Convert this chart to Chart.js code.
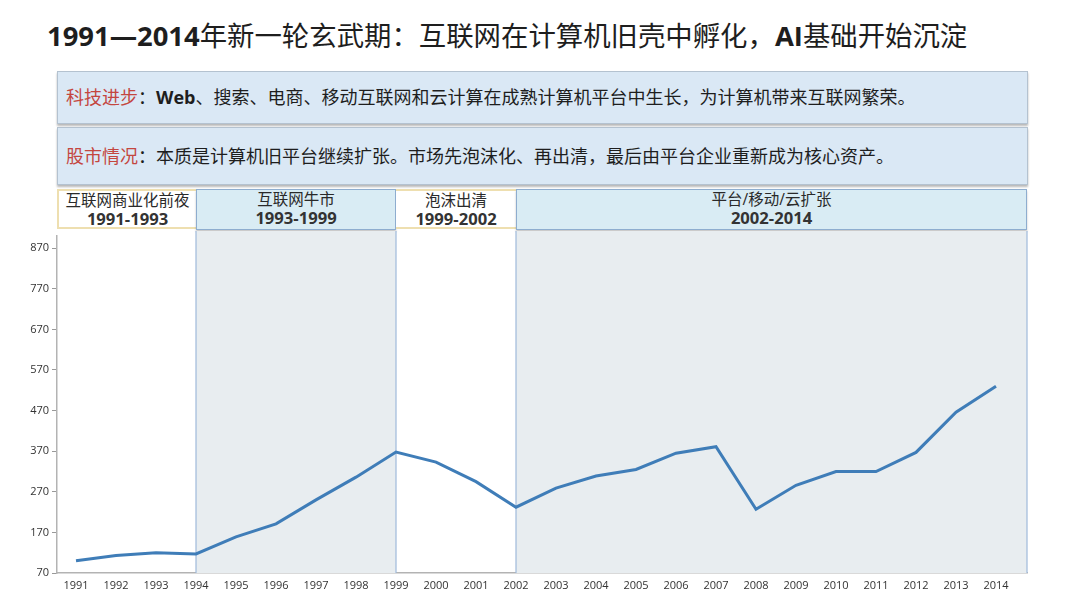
<!DOCTYPE html>
<html>
<head>
<meta charset="utf-8">
<script src="https://cdn.jsdelivr.net/npm/chart.js@4"></script>
<style>
  html, body { margin:0; padding:0; background:#fff; }
  body { width:1080px; height:608px; position:relative; overflow:hidden;
         font-family: "Open Sans", "Noto Sans CJK SC", sans-serif; color:#222; }
  #title { position:absolute; left:47px; top:16px; font-size:27.4px; line-height:40px; white-space:nowrap; color:#1e1e1e;
           font-family: "Open Sans", "Noto Sans CJK SC", sans-serif; }
  #title b { font-weight:700; }
  .box { position:absolute; left:57px; width:969px; background:#dae8f5; border:1px solid #b4c2d0;
         box-shadow:0 2px 2px rgba(0,0,0,0.28); font-size:18px; white-space:nowrap;
         font-family: "Open Sans", "Noto Sans CJK SC", sans-serif; color:#1e1e1e; }
  .box .lab { color:#c4463f; }
  .box .txt { padding-left:8px; }
  #box1 { top:71px; height:51px; line-height:51px; }
  #box2 { top:127px; height:56px; line-height:56px; }
  #band { position:absolute; top:189px; left:0; width:1080px; height:42px; }
  .seg { position:absolute; top:0; height:40px; box-sizing:border-box; text-align:center; color:#2a2a2a;
         font-family: "Open Sans", "Noto Sans CJK SC", sans-serif; }
  .seg.w { background:#fff; border-top:2px solid #eedfb0; border-bottom:2px solid #eedfb0; }
  .seg.b { background:#d9ecf4; border:1px solid #8eadcf; box-shadow:0 2px 2px rgba(0,0,0,0.22); height:41px; }
  .seg .n { font-size:15.5px; line-height:17px; margin-top:1px; }
  .seg .y { font-size:16.6px; line-height:19px; font-weight:700; color:#333; }
  #wrap { position:absolute; left:0; top:231px; width:1080px; height:377px; }
</style>
</head>
<body>
<div id="title"><b>1991—2014</b>年新一轮玄武期：互联网在计算机旧壳中孵化，<b>AI</b>基础开始沉淀</div>
<div class="box" id="box1"><span class="txt"><span class="lab">科技进步</span>：<b>Web</b>、搜索、电商、移动互联网和云计算在成熟计算机平台中生长，为计算机带来互联网繁荣。</span></div>
<div class="box" id="box2"><span class="txt"><span class="lab">股市情况</span>：本质是计算机旧平台继续扩张。市场先泡沫化、再出清，最后由平台企业重新成为核心资产。</span></div>
<div id="band"></div>
<div id="wrap"><canvas id="c"></canvas></div>
<script>
// ---- data ----
const years = [1991,1992,1993,1994,1995,1996,1997,1998,1999,2000,2001,2002,2003,2004,2005,2006,2007,2008,2009,2010,2011,2012,2013,2014];
const values = [100,113,120,117,159,191,250,306,368,343,295,232,279,309,325,365,381,227,286,320,320,367,466,530];
const yTicks = [70,170,270,370,470,570,670,770,870];
const phaseNames = ["互联网商业化前夜","互联网牛市","泡沫出清","平台/移动/云扩张"];
const phaseYears = ["1991-1993","1993-1999","1999-2002","2002-2014"];
const phaseStart = [null,1994,1999,2002];   // null = left edge of axis
const phaseEnd   = [1994,1999,2002,null];   // null = right edge of axis
const phaseShaded = [false,true,false,true];

const X_MIN = 1990.525, X_MAX = 2014.775;

const shadePlugin = {
  id:'shade',
  beforeDatasetsDraw(chart){
    const {ctx, chartArea:a, scales:{x}} = chart;
    ctx.save();
    phaseShaded.forEach((s,i)=>{
      if(!s) return;
      const x0 = phaseStart[i]===null ? a.left : x.getPixelForValue(phaseStart[i]);
      const x1 = phaseEnd[i]===null ? a.right : x.getPixelForValue(phaseEnd[i]);
      ctx.fillStyle = '#e8edf0';
      ctx.fillRect(x0, 0, x1-x0, a.bottom);
      ctx.strokeStyle = '#9fbadb';
      ctx.lineWidth = 1.2;
      ctx.beginPath();
      ctx.moveTo(x0, 0); ctx.lineTo(x0, a.bottom);
      ctx.moveTo(x1, 0); ctx.lineTo(x1, a.bottom);
      ctx.stroke();
    });
    ctx.restore();
  },
  afterRender(chart){
    const band = document.getElementById('band');
    if (band.dataset.done) return;
    band.dataset.done = '1';
    const {chartArea:a, scales:{x}} = chart;
    phaseNames.forEach((nm,i)=>{
      const x0 = phaseStart[i]===null ? a.left : x.getPixelForValue(phaseStart[i]);
      const x1 = phaseEnd[i]===null ? a.right : x.getPixelForValue(phaseEnd[i]);
      const d = document.createElement('div');
      d.className = 'seg ' + (phaseShaded[i] ? 'b' : 'w');
      d.style.left = x0 + 'px';
      d.style.width = (x1-x0) + 'px';
      if (i===0) d.style.borderLeft = '2px solid #eedfb0';
      d.innerHTML = '<div class="n">'+nm+'</div><div class="y">'+phaseYears[i]+'</div>';
      band.appendChild(d);
    });
  }
};

new Chart(document.getElementById('c'), {
  type:'line',
  data:{ datasets:[{
    data: years.map((yr,i)=>({x:yr, y:values[i]})),
    borderColor:'#3f7db8', borderWidth:3, pointRadius:0, tension:0, fill:false
  }]},
  options:{
    responsive:true, maintainAspectRatio:false, animation:false,
    layout:{ padding:{ left:0, right:53, top:5, bottom:13 } },
    plugins:{ legend:{display:false}, tooltip:{enabled:false} },
    scales:{
      x:{ type:'linear', min:X_MIN, max:X_MAX,
          afterBuildTicks(s){ s.ticks = years.map(v=>({value:v})); },
          afterFit(s){ s.height = 22; s.paddingLeft = 0; s.paddingRight = 0; },
          grid:{ display:false, drawTicks:false },
          border:{ display:true, color:'#b3b3b3', width:1.5 },
          ticks:{ autoSkip:false, maxRotation:0, padding:6, color:'#333',
                  font:{ family:'"Open Sans", sans-serif', size:11 },
                  callback:(v)=>String(v) } },
      y:{ min:70, max:900,
          afterBuildTicks(s){ s.ticks = yTicks.map(v=>({value:v})); },
          afterFit(s){ s.width = 57; s.paddingTop = 0; s.paddingBottom = 0; },
          grid:{ drawOnChartArea:false, drawTicks:true, tickLength:5, color:'#999' },
          border:{ display:true, color:'#b3b3b3', width:1.5 },
          ticks:{ padding:3, color:'#333', font:{ family:'"Open Sans", sans-serif', size:11 } } }
    }
  },
  plugins:[shadePlugin]
});
</script>
</body>
</html>
